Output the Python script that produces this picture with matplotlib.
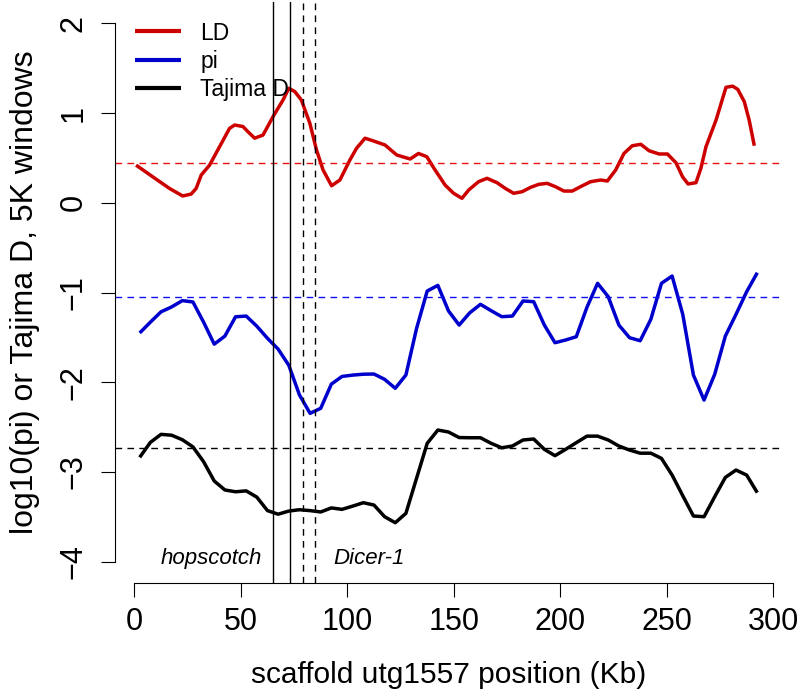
import matplotlib
matplotlib.use("Agg")
import matplotlib.pyplot as plt

# ---------------- data ----------------
ld_pos = [0.8, 8.6, 16.5, 22.7, 26.7, 29.0, 31.4, 35.3, 40.0, 44.7, 47.1, 51.0, 53.4, 56.5,
          60.4, 65.1, 69.8, 72.5, 75.3, 78.4, 82.4, 85.5, 88.6, 92.6, 96.5, 101.2, 104.3,
          108.3, 112.2, 117.7, 123.2, 129.5, 133.4, 137.3, 141.2, 145.9, 149.9, 153.8, 157.0,
          161.6, 165.6, 170.3, 174.2, 178.1, 182.1, 186.0, 189.9, 193.8, 197.7, 201.7, 205.6,
          209.5, 214.2, 218.9, 222.1, 226.0, 229.9, 233.8, 237.8, 241.7, 246.4, 250.3, 254.3,
          257.4, 260.0, 263.7, 266.0, 268.4, 273.1, 277.8, 280.9, 283.3, 286.4, 288.7, 291.1]
ld_val = [0.42, 0.29, 0.16, 0.076, 0.098, 0.16, 0.31, 0.42, 0.625, 0.83, 0.867, 0.85, 0.79,
          0.72, 0.755, 0.96, 1.146, 1.276, 1.24, 1.146, 0.886, 0.59, 0.366, 0.19, 0.254, 0.477,
          0.607, 0.72, 0.69, 0.644, 0.533, 0.488, 0.55, 0.514, 0.366, 0.198, 0.106, 0.05, 0.143,
          0.235, 0.273, 0.224, 0.16, 0.106, 0.124, 0.172, 0.206, 0.217, 0.18, 0.131, 0.131,
          0.18, 0.235, 0.254, 0.243, 0.366, 0.55, 0.636, 0.652, 0.58, 0.544, 0.544, 0.447,
          0.29, 0.21, 0.224, 0.384, 0.625, 0.92, 1.287, 1.3, 1.265, 1.127, 0.92, 0.636]

win_pos = [2.5, 7.5, 12.5, 17.5, 22.5, 27.5, 32.5, 37.5, 42.5, 47.5, 52.5, 57.5, 62.5, 67.5,
           72.5, 77.5, 82.5, 87.5, 92.5, 97.5, 102.5, 107.5, 112.5, 117.5, 122.5, 127.5,
           132.5, 137.5, 142.5, 147.5, 152.5, 157.5, 162.5, 167.5, 172.5, 177.5, 182.5,
           187.5, 192.5, 197.5, 202.5, 207.5, 212.5, 217.5, 222.5, 227.5, 232.5, 237.5,
           242.5, 247.5, 252.5, 257.5, 262.5, 267.5, 272.5, 277.5, 282.5, 287.5, 292.5]
log_pi = [-1.45, -1.33, -1.215, -1.16, -1.09, -1.105, -1.33, -1.575, -1.485, -1.27, -1.262,
          -1.375, -1.51, -1.63, -1.81, -2.14, -2.346, -2.29, -2.02, -1.935, -1.92, -1.91,
          -1.908, -1.967, -2.067, -1.919, -1.40, -0.983, -0.92, -1.205, -1.362, -1.225,
          -1.131, -1.202, -1.269, -1.262, -1.094, -1.102, -1.362, -1.559, -1.529, -1.492,
          -1.165, -0.897, -1.046, -1.362, -1.503, -1.537, -1.299, -0.897, -0.816, -1.243,
          -1.919, -2.198, -1.911, -1.485, -1.243, -0.991, -0.779]
tajima_d = [-2.836, -2.67, -2.58, -2.59, -2.64, -2.72, -2.885, -3.10, -3.20, -3.22, -3.21,
            -3.28, -3.43, -3.47, -3.435, -3.42, -3.43, -3.445, -3.40, -3.416, -3.38, -3.342,
            -3.368, -3.498, -3.565, -3.46, -3.07, -2.68, -2.532, -2.554, -2.616, -2.618,
            -2.618, -2.68, -2.73, -2.71, -2.643, -2.632, -2.747, -2.818, -2.747, -2.673,
            -2.60, -2.60, -2.643, -2.71, -2.755, -2.79, -2.79, -2.848, -3.034, -3.264, -3.49,
            -3.498, -3.275, -3.06, -2.978, -3.034, -3.23]

mean_ld = 0.44
mean_pi = -1.053
mean_td = -2.736

hopscotch_bounds = [65.0, 73.3]
dicer_bounds = [79.1, 85.0]
series_labels = ["LD", "pi", "Tajima D"]
x_ticks = [0, 50, 100, 150, 200, 250, 300]
y_ticks = [-4, -3, -2, -1, 0, 1, 2]

RED = "#CD0000"
BLUE = "#0000CD"
BLACK = "#000000"
RED_REF = "#E81010"
BLUE_REF = "#1010F0"

# ---------------- figure ----------------
W, H = 800, 699
fig = plt.figure(figsize=(W / 100, H / 100), dpi=100)
plt.rcParams['font.family'] = ['Liberation Sans', 'DejaVu Sans']
ax = fig.add_axes([115 / W, 1 - 583.3 / H, 667 / W, 581.5 / H])
ax.set_xlim(-9.1, 304.1)
ax.set_ylim(-4.24, 2.24)

lw = 2.5
l1, = ax.plot(ld_pos, ld_val, color=RED, lw=lw, solid_joinstyle='round', solid_capstyle='butt')
l2, = ax.plot(win_pos, log_pi, color=BLUE, lw=lw, solid_joinstyle='round', solid_capstyle='butt')
l3, = ax.plot(win_pos, tajima_d, color=BLACK, lw=lw, solid_joinstyle='round', solid_capstyle='butt')

dash = (4.8, 3.8)
for val, c in [(mean_ld, RED_REF), (mean_pi, BLUE_REF), (mean_td, BLACK)]:
    ax.axhline(val, color=c, lw=1.0, dashes=dash)

for xv in hopscotch_bounds:
    ax.axvline(xv, color=BLACK, lw=1.0)
for xv in dicer_bounds:
    ax.axvline(xv, color=BLACK, lw=1.0, dashes=dash)

ax.text(hopscotch_bounds[0] - 4.9, -4.02, "hopscotch", style='italic', fontsize=16,
        ha='right', va='baseline')
ax.text(dicer_bounds[1] + 8.2, -4.02, "Dicer-1", style='italic', fontsize=16,
        ha='left', va='baseline')

# R-style axes
for s in ['top', 'right']:
    ax.spines[s].set_visible(False)
ax.spines['left'].set_bounds(y_ticks[0], y_ticks[-1])
ax.spines['bottom'].set_bounds(x_ticks[0], x_ticks[-1])
for s in ['left', 'bottom']:
    ax.spines[s].set_linewidth(0.8)
ax.set_xticks(x_ticks)
ax.set_yticks(y_ticks)
ax.set_xticklabels([str(v) for v in x_ticks])
ax.set_yticklabels([str(v).replace('-', '\u2212') for v in y_ticks])
ax.tick_params(axis='both', length=9.8, width=0.8, labelsize=22)
ax.tick_params(axis='x', pad=7)
ax.tick_params(axis='y', pad=9, labelrotation=90)
for t in ax.get_yticklabels():
    t.set_va('center')

ax.set_xlabel("scaffold utg1557 position (Kb)", fontsize=21.5, va='baseline')
ax.xaxis.set_label_coords(0.5, -(683 - 583.3) / 581.5)
ax.set_ylabel("log10(pi) or Tajima D, 5K windows", fontsize=23, va='baseline')
ax.yaxis.set_label_coords((33.3 - 115) / 667, 0.5)

leg = ax.legend([l1, l2, l3], series_labels, loc='upper left',
                bbox_to_anchor=(135 / W, 1 - 21.5 / H), bbox_transform=fig.transFigure,
                frameon=False, fontsize=16.5, handlelength=2.0, handletextpad=0.85,
                labelspacing=0.22, borderpad=0, borderaxespad=0)
for h in leg.legend_handles:
    h.set_linewidth(3.0)

fig.savefig("out.png", dpi=100)
